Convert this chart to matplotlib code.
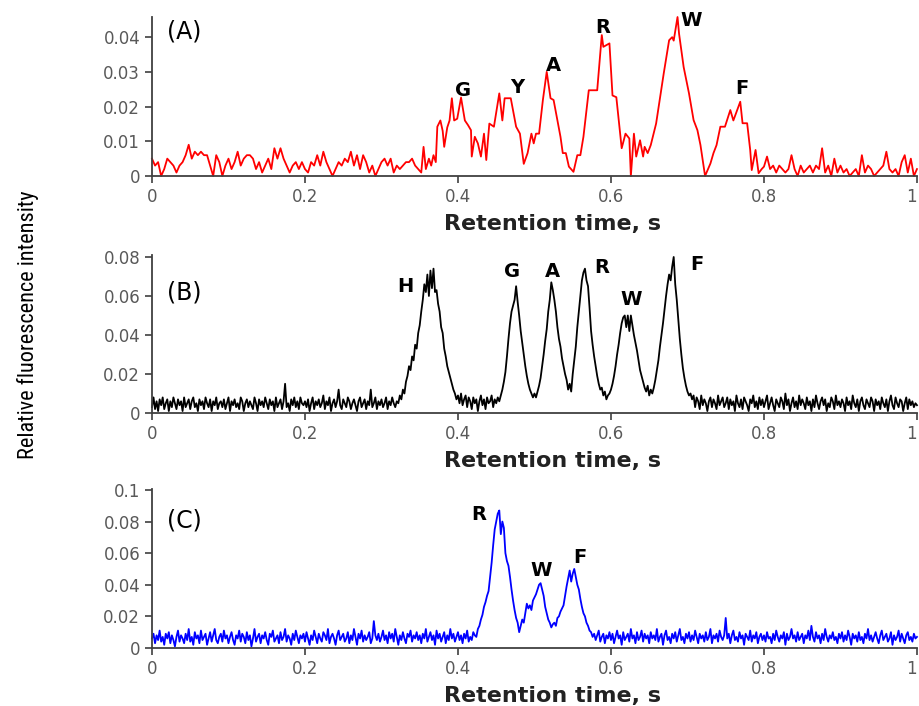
import matplotlib.pyplot as plt
import numpy as np
from matplotlib import font_manager

# ---------------- panel A (red) ; intensities in units of 1e-3 ----------------
a_base1_time = np.arange(88) * 0.004          # 0 .. 0.348 s
a_base1 = [5, 3, 4, 0, 2, 5, 4, 3, 1, 3,
           4, 6, 9, 5, 7, 6, 7, 6, 6, 3,
           0, 6, 4, 0, 3, 5, 2, 4, 7, 3,
           5, 6, 6, 5, 2, 4, 1, 3, 5, 2,
           8, 5, 8, 5, 3, 1, 3, 4, 2, 4,
           2, 1, 4, 3, 6, 3, 7, 4, 2, 0,
           2, 4, 3, 5, 4, 7, 3, 6, 2, 6,
           4, 1, 3, 0, 2, 4, 5, 3, 5, 1,
           3, 2, 3, 4, 4, 5, 3, 2]
a_peak_time = [0.352, 0.355, 0.358, 0.362, 0.365, 0.368, 0.371, 0.373, 0.377, 0.380,
               0.382, 0.386, 0.389, 0.392, 0.395, 0.399, 0.404, 0.409, 0.413, 0.417,
               0.418, 0.422, 0.426, 0.430, 0.434, 0.437, 0.441, 0.447, 0.454, 0.458,
               0.461, 0.469, 0.476, 0.481, 0.486, 0.491, 0.496, 0.499, 0.502, 0.506,
               0.511, 0.516, 0.521, 0.525, 0.530, 0.534, 0.537, 0.541, 0.545, 0.551,
               0.556, 0.560, 0.564, 0.571, 0.577, 0.582, 0.588, 0.590, 0.598, 0.602,
               0.607, 0.614, 0.619, 0.624, 0.626, 0.630, 0.633, 0.638, 0.642, 0.644,
               0.648, 0.652, 0.659, 0.665, 0.669, 0.676, 0.680, 0.682, 0.687, 0.689,
               0.695, 0.702, 0.708, 0.713, 0.717, 0.723, 0.730, 0.734, 0.738, 0.743,
               0.749, 0.756, 0.760, 0.765, 0.769, 0.772, 0.778, 0.782, 0.784, 0.789,
               0.793, 0.797, 0.800]
a_peak = [1, 8.4, 2, 5, 3, 6, 4, 14.2, 16, 13,
          8.4, 14, 16, 22.4, 16, 16.5, 22.6, 16, 14.7, 13.2,
          5.6, 11.3, 9.4, 5.6, 12.2, 4.6, 15.1, 14.2, 23.8, 16,
          22.4, 22.4, 14.2, 12.2, 3.5, 6.6, 12.2, 9.4, 12.2, 12.2,
          21.9, 30, 22.4, 21.9, 16, 11.3, 6.6, 6.6, 2.7, 1.2,
          6, 6, 11.3, 24.7, 24.7, 24.7, 40.6, 37.2, 38.2, 23.2,
          22.7, 8, 12.2, 10.8, 0, 12.2, 5.6, 10.3, 5.6, 8.4,
          6.6, 8.9, 15.1, 23.8, 29.6, 39.1, 40, 39, 45.8, 41,
          31.4, 23.8, 16.1, 13.2, 8.9, 0, 3.6, 6.6, 8.9, 14.2,
          14.2, 19, 16, 19, 21.4, 15.2, 15.2, 7.5, 1.7, 7.5,
          0.8, 2, 2.7]
a_base2_time = 0.804 + np.arange(50) * 0.004  # 0.804 .. 1.0 s
a_base2 = [5.6, 2, 3, 1, 3, 2, 1, 2, 6, 2,
           0, 3, 1, 2, 3, 1, 3, 2, 8, 1,
           3, 0, 5, 1, 3, 1, 2, 0, 1, 2,
           0, 6, 1, 3, 2, 0, 1, 2, 3, 7,
           2, 1, 2, 0, 4, 6, 1, 5, 0, 2]

# ---------------- panel B (black) ; 0.002 s grid, units of 1e-3 ----------------
b_time = np.linspace(0, 1, 501)
b_int = [3, 8, 2, 6, 1, 7, 4, 8, 2, 5, 7, 1, 6, 3, 8, 5, 2, 7, 4, 6, 1, 8, 3, 5, 7,
         2, 6, 8, 3, 5, 1, 7, 4, 6, 2, 8, 5, 3, 7, 1, 6, 4, 8, 2, 5, 6, 3, 7, 2, 5,
         8, 1, 6, 4, 7, 3, 5, 2, 8, 6, 1, 5, 7, 3, 6, 4, 2, 8, 5, 1, 7, 4, 6, 3, 8,
         5, 2, 7, 4, 6, 1, 8, 3, 5, 7, 2, 6, 15, 3, 5, 1, 7, 4, 8, 3, 6, 2, 8, 5, 4,
         6, 3, 7, 1, 5, 8, 2, 6, 4, 7, 3, 5, 9, 2, 6, 4, 8, 1, 5, 7, 3, 6, 12, 4, 2,
         7, 5, 3, 8, 6, 2, 5, 7, 4, 1, 6, 8, 3, 5, 7, 2, 6, 4, 12, 3, 5, 8, 2, 6, 4,
         7, 3, 5, 8, 2, 6, 4, 8, 5, 3, 6, 5, 9, 7, 12, 10, 16, 19, 24, 22, 29, 27, 35, 33, 41,
         45, 52, 58, 66, 62, 71, 60, 73, 64, 74, 62, 63, 56, 52, 44, 41, 33, 29, 24, 21, 18, 15, 12, 10, 7,
         9, 5, 10, 4, 7, 9, 3, 8, 6, 2, 8, 5, 7, 1, 6, 9, 4, 7, 2, 8, 5, 6, 9, 3, 7,
         5, 8, 6, 9, 12, 16, 21, 29, 38, 46, 52, 55, 58, 65, 57, 50, 42, 36, 30, 24, 19, 15, 12, 10, 8,
         10, 8, 11, 14, 18, 24, 30, 37, 43, 52, 58, 67, 63, 58, 52, 44, 38, 34, 28, 24, 20, 17, 12, 15, 11,
         20, 27, 34, 44, 52, 60, 68, 72, 74, 68, 65, 54, 42, 35, 29, 24, 19, 15, 12, 13, 9, 11, 7, 9, 10,
         12, 15, 19, 24, 30, 35, 41, 46, 49, 50, 44, 50, 42, 50, 45, 40, 36, 32, 27, 22, 19, 16, 13, 11, 14,
         9, 12, 10, 13, 17, 22, 27, 34, 40, 46, 53, 60, 66, 71, 68, 75, 80, 66, 58, 48, 38, 30, 23, 18, 14,
         11, 9, 10, 7, 9, 3, 8, 6, 2, 9, 4, 7, 5, 1, 6, 8, 3, 7, 5, 2, 9, 4, 6, 8, 3,
         5, 8, 2, 7, 4, 6, 1, 9, 5, 3, 7, 2, 8, 6, 4, 1, 7, 5, 9, 3, 6, 2, 8, 4, 7,
         3, 6, 9, 2, 5, 8, 4, 1, 7, 5, 3, 8, 6, 2, 10, 4, 7, 1, 5, 8, 3, 6, 2, 9, 4,
         7, 5, 2, 8, 4, 6, 1, 7, 3, 9, 5, 2, 6, 8, 4, 7, 1, 5, 3, 8, 6, 2, 9, 4, 6,
         3, 7, 5, 1, 8, 4, 6, 2, 9, 5, 3, 7, 1, 6, 8, 4, 2, 7, 5, 3, 8, 6, 1, 7, 4,
         6, 2, 8, 5, 3, 7, 1, 6, 9, 4, 2, 8, 5, 3, 7, 6, 1, 5, 8, 2, 7, 4, 6, 3, 5,
         4]

# ---------------- panel C (blue) ; 0.002 s grid, units of 1e-3 ----------------
c_time = np.linspace(0, 1, 501)
c_int = [6, 9, 3, 8, 5, 11, 4, 7, 2, 9, 6, 10, 3, 8, 5, 1, 7, 11, 4, 8, 6, 3, 9, 5, 12,
         4, 7, 2, 10, 6, 8, 3, 11, 5, 7, 9, 2, 6, 10, 4, 8, 12, 5, 3, 7, 9, 4, 11, 6, 8,
         3, 7, 10, 5, 2, 8, 6, 11, 4, 9, 7, 3, 10, 5, 8, 1, 6, 12, 4, 7, 9, 3, 8, 6, 10,
         5, 2, 9, 7, 11, 4, 6, 8, 3, 10, 5, 7, 12, 4, 8, 6, 2, 9, 5, 11, 7, 3, 8, 6, 9,
         4, 10, 6, 2, 8, 5, 11, 7, 3, 9, 6, 4, 10, 8, 5, 12, 3, 7, 9, 6, 2, 8, 11, 5, 7,
         9, 4, 6, 10, 3, 8, 5, 12, 7, 2, 9, 6, 11, 4, 8, 5, 7, 10, 3, 6, 17, 8, 5, 9, 4,
         7, 11, 5, 8, 3, 10, 6, 9, 4, 12, 7, 2, 8, 5, 10, 6, 3, 9, 7, 11, 4, 8, 6, 10, 5,
         8, 3, 9, 6, 12, 4, 7, 10, 5, 8, 2, 11, 6, 9, 4, 7, 10, 3, 8, 5, 12, 6, 9, 4, 7,
         10, 5, 8, 3, 9, 6, 11, 4, 7, 5, 10, 8, 7, 12, 14, 18, 21, 26, 29, 33, 36, 45, 54, 65, 75,
         80, 85, 87, 72, 80, 76, 60, 55, 52, 45, 37, 30, 24, 19, 16, 10, 14, 18, 16, 22, 28, 25, 27, 24, 30,
         32, 34, 37, 40, 41, 37, 33, 26, 22, 18, 16, 13, 15, 16, 14, 19, 20, 23, 25, 27, 33, 39, 44, 49, 42,
         47, 50, 45, 40, 37, 31, 26, 22, 20, 16, 14, 11, 10, 7, 9, 5, 8, 11, 4, 7, 9, 3, 8, 6, 10,
         5, 9, 3, 7, 11, 6, 8, 2, 10, 5, 7, 9, 4, 12, 6, 8, 3, 10, 5, 7, 11, 4, 9, 6, 8,
         3, 10, 6, 8, 5, 12, 4, 7, 9, 2, 8, 11, 5, 7, 3, 9, 6, 10, 4, 8, 12, 5, 7, 3, 9,
         6, 10, 4, 8, 5, 11, 7, 3, 9, 6, 8, 4, 10, 5, 7, 12, 3, 8, 6, 9, 4, 11, 7, 5, 8,
         19, 6, 9, 3, 8, 11, 5, 7, 4, 10, 6, 8, 2, 9, 7, 5, 11, 4, 8, 6, 10, 3, 7, 9, 5,
         8, 4, 10, 6, 7, 3, 9, 5, 11, 7, 4, 8, 6, 10, 2, 9, 5, 7, 12, 6, 8, 4, 10, 5, 7,
         9, 3, 8, 6, 11, 5, 14, 7, 4, 10, 6, 8, 3, 9, 5, 12, 7, 4, 8, 6, 10, 5, 7, 3, 9,
         6, 10, 4, 8, 5, 11, 7, 2, 9, 6, 8, 4, 10, 5, 7, 3, 9, 6, 12, 5, 8, 4, 7, 10, 6,
         3, 8, 11, 5, 7, 9, 4, 6, 10, 2, 8, 5, 7, 11, 4, 9, 6, 3, 8, 10, 5, 7, 4, 9, 6,
         7]

# peak labels
a_labels = ["G", "Y", "A", "R", "W", "F"]
a_label_x = [0.407, 0.478, 0.525, 0.589, 0.705, 0.771]
a_label_y = [0.0247, 0.0256, 0.0319, 0.0429, 0.0449, 0.0253]
b_labels = ["H", "G", "A", "R", "W", "F"]
b_label_x = [0.331, 0.471, 0.524, 0.588, 0.626, 0.712]
b_label_y = [0.0646, 0.0723, 0.0723, 0.0744, 0.058, 0.0759]
c_labels = ["R", "W", "F"]
c_label_x = [0.427, 0.509, 0.559]
c_label_y = [0.0842, 0.0487, 0.057]

time_a = np.concatenate([a_base1_time, a_peak_time, a_base2_time])
int_a = np.concatenate([a_base1, a_peak, a_base2]) / 1000
int_b = np.array(b_int) / 1000
int_c = np.array(c_int) / 1000

# narrow font for the shared y label, if one is installed
names = {f.name for f in font_manager.fontManager.ttflist}
narrow = [n for n in ["Liberation Sans Narrow", "Roboto Condensed", "Open Sans Condensed",
                      "DejaVu Sans Condensed"] if n in names]
ylab_family = narrow + ["DejaVu Sans"]
ylab_size = 16 if narrow else 13

fig = plt.figure(figsize=(9.2, 7.06), dpi=100)
ax_a = fig.add_axes([0.1652, 0.7507, 0.8315, 0.2252])
ax_b = fig.add_axes([0.1652, 0.4150, 0.8315, 0.2238])
ax_c = fig.add_axes([0.1652, 0.0822, 0.8315, 0.2252])

panels = [
    (ax_a, time_a, int_a, "red", 0.0458, np.arange(0, 0.041, 0.01), "(A)", 0.906,
     a_labels, a_label_x, a_label_y),
    (ax_b, b_time, int_b, "black", 0.081, np.arange(0, 0.081, 0.02), "(B)", 0.76,
     b_labels, b_label_x, b_label_y),
    (ax_c, c_time, int_c, "blue", 0.1006, np.arange(0, 0.101, 0.02), "(C)", 0.80,
     c_labels, c_label_x, c_label_y),
]

for ax, t, y, col, ytop, yticks, tag, tag_y, labs, lx, ly in panels:
    ax.plot(t, y, color=col, lw=1.3, clip_on=False)
    ax.set_xlim(0, 1)
    ax.set_ylim(0, ytop)
    ax.set_xticks(np.arange(0, 1.01, 0.2))
    ax.set_yticks(yticks)
    ax.xaxis.set_major_formatter(plt.FormatStrFormatter("%g"))
    ax.yaxis.set_major_formatter(plt.FormatStrFormatter("%g"))
    for s in ["top", "right"]:
        ax.spines[s].set_visible(False)
    for s in ["left", "bottom"]:
        ax.spines[s].set_color("#404040")
        ax.spines[s].set_linewidth(1.3)
    ax.tick_params(colors="#404040", labelcolor="#595959", labelsize=12,
                   length=5, width=1.2, direction="out")
    # last tick label ("1") sits at the figure edge
    ax.xaxis.get_major_ticks()[-1].label1.set_horizontalalignment("right")
    ax.set_xlabel("Retention time, s", fontsize=16, fontweight="bold",
                  color="#222222", labelpad=6)
    ax.xaxis.label.set_x(0.524)
    ax.text(0.02, tag_y, tag, transform=ax.transAxes, fontsize=17,
            va="center", ha="left", color="black")
    for lab, x, yy in zip(labs, lx, ly):
        ax.text(x, yy, lab, fontsize=14, fontweight="bold", ha="center",
                va="center", color="black")

fig.text(0.030, 0.54, "Relative fluorescence intensity", rotation=90,
         va="center", ha="center", fontsize=ylab_size, family=ylab_family,
         stretch="condensed")

fig.savefig("out.png", dpi=100)
